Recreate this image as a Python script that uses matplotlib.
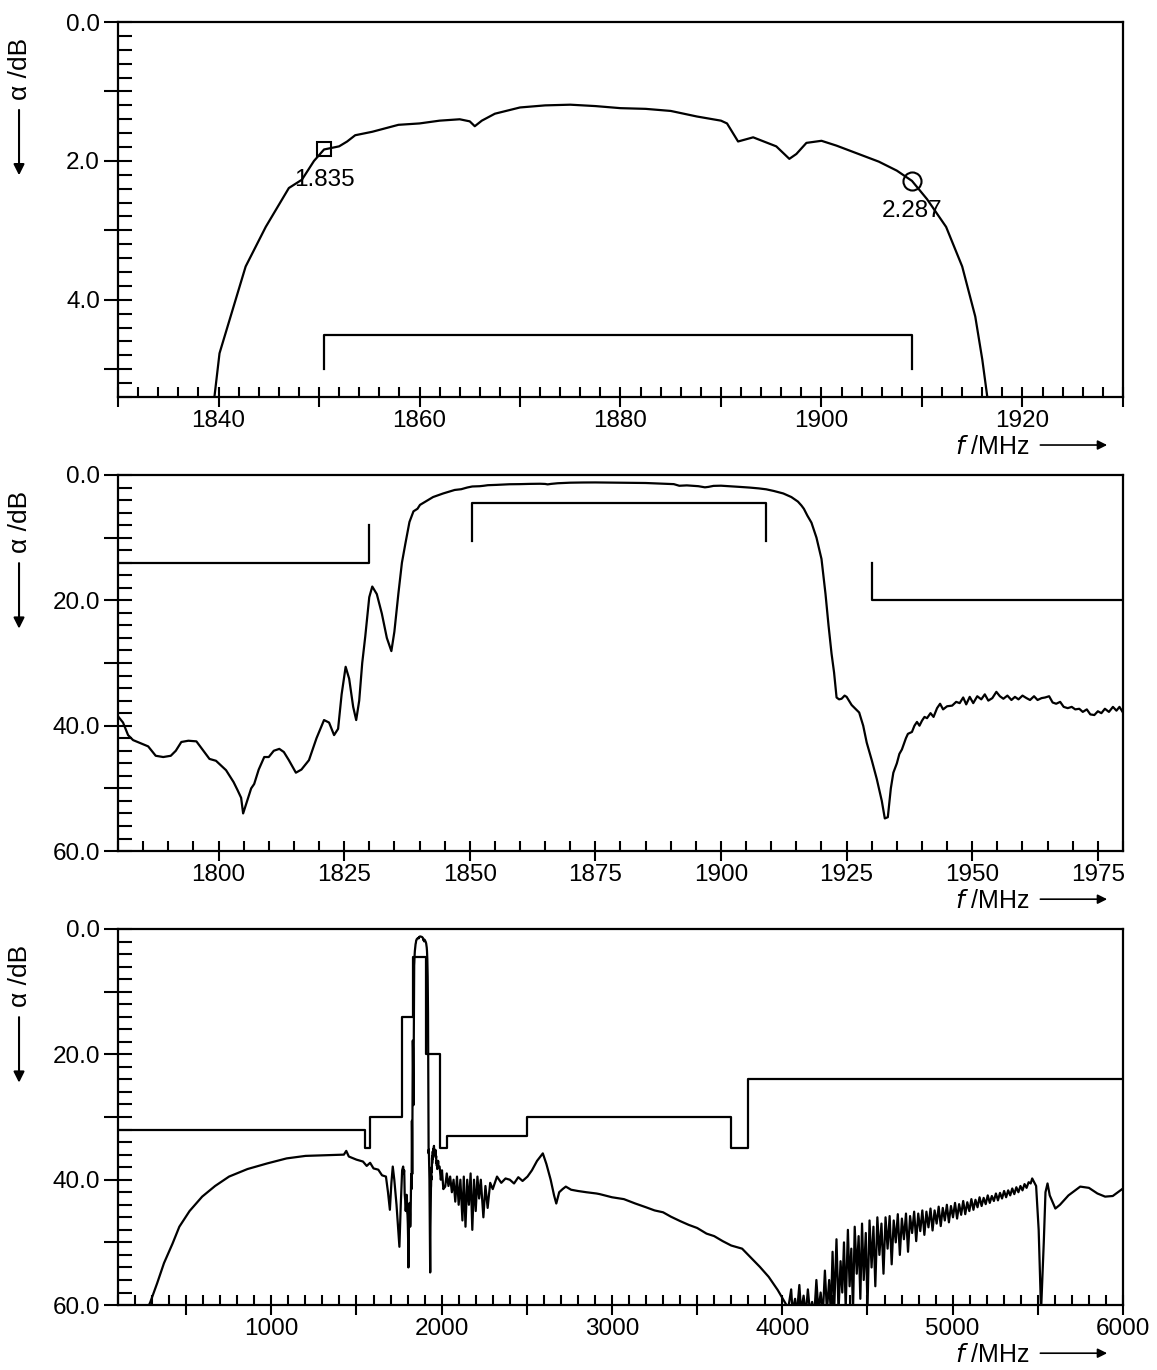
import matplotlib
matplotlib.use('Agg')
import matplotlib.pyplot as plt
from matplotlib.ticker import MultipleLocator, FuncFormatter

plt.rcParams['font.family'] = ['Liberation Sans', 'DejaVu Sans']

# fine sweep around the passband (MHz, dB)
fine_f = [1780.0, 1781.0, 1782.0, 1783.0, 1784.5, 1786.0, 1787.5, 1789.0, 1790.5, 1791.5,
          1792.6, 1794.0, 1795.6, 1797.0, 1798.2, 1799.5, 1801.5, 1803.0, 1803.8, 1804.5,
          1804.9, 1805.5, 1806.5, 1807.1, 1808.0, 1809.1, 1810.0, 1811.0, 1812.1, 1813.0,
          1814.0, 1815.4, 1816.5, 1818.0, 1819.5, 1821.0, 1822.0, 1823.0, 1823.8, 1824.5,
          1825.3, 1826.0, 1826.8, 1827.4, 1828.0, 1828.6, 1829.2, 1830.0, 1830.6, 1831.5,
          1832.5, 1833.5, 1834.4, 1835.0, 1835.8, 1836.5, 1837.2, 1838.0, 1838.8,
          1839.6, 1840.1, 1841.1, 1842.7, 1844.7, 1847.0, 1848.3, 1849.5, 1850.5, 1852.0,
          1852.8, 1853.6, 1855.3, 1857.9, 1860.0, 1862.0, 1864.0, 1865.0, 1865.5, 1866.2,
          1867.5, 1870.0, 1872.5, 1875.0, 1877.5, 1880.0, 1882.5, 1885.0, 1887.6, 1890.0,
          1890.6, 1891.7, 1893.2, 1894.6, 1895.5, 1896.8, 1897.5, 1898.5, 1900.0, 1901.5,
          1903.5, 1905.7, 1907.5, 1909.0, 1910.5, 1912.4, 1914.0, 1915.3, 1916.0, 1916.5,
          1917.2, 1918.0, 1919.0, 1920.0, 1920.8, 1921.4, 1922.0, 1922.5, 1923.0, 1923.5,
          1924.0, 1924.6, 1925.0, 1926.0, 1927.5, 1928.3, 1929.0, 1930.0, 1931.0, 1932.0,
          1932.6, 1933.2, 1933.8, 1934.3, 1935.0, 1935.5, 1936.0, 1936.8, 1937.2, 1938.0,
          1938.5, 1939.0, 1939.5, 1940.0, 1940.5, 1941.0, 1941.7, 1942.3, 1943.0, 1943.6,
          1944.2, 1945.0, 1946.0, 1946.8, 1947.5, 1948.2, 1948.8, 1949.5, 1950.2, 1951.0,
          1951.8, 1952.5, 1953.2, 1954.0, 1954.8, 1955.5, 1956.2, 1957.0, 1957.8, 1958.5,
          1959.2, 1960.0, 1960.8, 1961.5, 1962.3, 1963.0, 1963.8, 1964.5, 1965.3, 1966.0,
          1966.7, 1967.5, 1968.2, 1969.0, 1969.8, 1970.5, 1971.3, 1972.0, 1972.8, 1973.5,
          1974.3, 1975.0, 1975.7, 1976.4, 1977.2, 1978.0, 1978.7, 1979.3, 1980.0]
fine_a = [38.5, 39.5, 41.5, 42.3, 42.8, 43.3, 44.8, 45.0, 44.8, 44.0,
          42.6, 42.4, 42.5, 44.0, 45.3, 45.6, 47.1, 49.0, 50.3, 51.5,
          54.0, 52.5, 50.0, 49.3, 47.0, 45.0, 45.0, 44.0, 43.7, 44.2,
          45.5, 47.5, 47.0, 45.5, 42.0, 39.1, 39.5, 41.5, 40.5, 35.0,
          30.6, 32.5, 37.0, 39.1, 36.0, 30.0, 25.8, 19.5, 17.8, 19.0,
          22.1, 26.0, 28.1, 25.0, 18.9, 14.0, 10.9, 7.5, 5.8,
          5.39, 4.77, 4.29, 3.52, 2.95, 2.39, 2.27, 2.00, 1.835, 1.79,
          1.72, 1.63, 1.58, 1.48, 1.46, 1.42, 1.40, 1.43, 1.50, 1.42,
          1.32, 1.23, 1.20, 1.19, 1.21, 1.24, 1.25, 1.28, 1.36, 1.42,
          1.46, 1.72, 1.66, 1.74, 1.79, 1.97, 1.90, 1.74, 1.71, 1.78,
          1.89, 2.01, 2.14, 2.287, 2.55, 2.95, 3.52, 4.24, 4.86, 5.40,
          6.5, 7.6, 10.0, 13.4, 19.0, 24.0, 28.5, 31.5, 35.5, 35.8,
          35.7, 35.2, 35.4, 36.7, 37.9, 40.0, 42.7, 45.5, 48.5, 52.0,
          54.8, 54.6, 50.0, 47.5, 46.0, 44.5, 43.8, 42.0, 41.3, 41.0,
          40.0, 39.4, 40.0, 39.2, 38.6, 38.8, 38.0, 38.6, 37.2, 36.5,
          37.4, 36.9, 36.8, 36.2, 36.4, 35.5, 36.6, 35.4, 36.4, 35.3,
          35.8, 35.0, 36.0, 35.6, 34.6, 35.3, 35.7, 35.2, 35.9, 35.4,
          35.8, 35.2, 35.6, 35.9, 35.3, 35.9, 35.6, 35.5, 35.3, 36.3,
          36.5, 36.2, 37.0, 37.2, 37.0, 37.4, 37.3, 37.8, 37.4, 38.2,
          38.3, 37.7, 38.0, 37.3, 37.8, 37.0, 37.6, 37.0, 37.9]

# wide sweep below and above the fine sweep
low_f = [250, 290, 330, 370, 420, 460, 520, 594, 670, 752, 860, 976, 1090, 1201, 1310,
         1426, 1440, 1455, 1500, 1538, 1560, 1580, 1600, 1628, 1650, 1673, 1685, 1696,
         1705, 1713, 1722, 1735, 1745, 1752, 1760, 1768, 1774, 1778]
low_a = [62.0, 59.5, 56.5, 53.3, 50.2, 47.5, 45.0, 42.7, 41.0, 39.5, 38.3, 37.4, 36.6, 36.2, 36.1,
         36.0, 35.4, 36.3, 36.8, 37.1, 37.8, 37.3, 38.2, 38.4, 39.3, 39.5, 42.0, 44.8,
         40.5, 37.9, 40.0, 44.0, 48.0, 50.7, 44.0, 38.5, 37.9, 39.0]

high_f = [1988, 1995, 2002, 2010, 2021, 2030, 2040, 2050, 2060, 2070, 2080, 2090, 2100, 2110,
          2122, 2130, 2140, 2150, 2160, 2170, 2180, 2190, 2200, 2210, 2220, 2230, 2245, 2257,
          2270, 2285, 2300, 2325, 2350, 2375, 2400, 2425, 2450, 2475, 2504, 2530, 2560, 2594,
          2615, 2640, 2660, 2673, 2690, 2710, 2729, 2760, 2800, 2850, 2909, 2928, 3000, 3070,
          3137, 3200, 3250, 3300, 3346, 3400, 3450, 3500, 3555, 3600, 3650, 3700, 3764, 3800,
          3868, 3920, 3973, 4035,
          4052, 4060, 4075, 4085, 4100, 4110, 4125, 4138, 4150, 4162, 4175, 4188, 4200, 4212,
          4225, 4238, 4250, 4262, 4275, 4285, 4295, 4305, 4318, 4330, 4342, 4352, 4362, 4372,
          4385, 4395, 4405, 4415, 4425, 4437, 4448, 4458, 4468, 4478, 4490, 4500, 4512, 4524,
          4535, 4546, 4558, 4570, 4582, 4594, 4606, 4618, 4630, 4642, 4654, 4666, 4678, 4690,
          4702, 4714, 4726, 4738, 4750, 4762, 4774, 4786, 4798, 4810, 4822, 4834, 4846, 4858,
          4870, 4882, 4894, 4906, 4918, 4930, 4942, 4954, 4966, 4978, 4990, 5002, 5014, 5026,
          5038, 5050, 5062, 5074, 5086, 5098, 5110, 5122, 5134, 5146, 5158, 5170, 5182, 5194,
          5206, 5218, 5230, 5242, 5254, 5266, 5278, 5290, 5302, 5314, 5326, 5338, 5350, 5362,
          5374, 5386, 5398, 5410, 5422, 5434, 5446, 5458,
          5467, 5490, 5505, 5519, 5535, 5545, 5557, 5570, 5603, 5630, 5680, 5749, 5800, 5850,
          5895, 5940, 5970, 6000]
high_a = [37.9, 40.0, 38.5, 41.5, 41.1, 39.0, 41.0, 39.5, 42.0, 40.0, 43.5, 39.5, 44.0, 40.0,
          46.5, 39.5, 47.5, 40.0, 44.0, 39.0, 48.0, 40.0, 45.0, 39.5, 43.0, 40.0, 46.0, 41.0,
          44.5, 40.5, 41.5, 39.5, 40.5, 39.8, 40.0, 40.6, 39.6, 40.2, 39.5, 38.5, 37.0, 35.8,
          37.5, 40.0, 42.5, 43.8, 42.0, 41.5, 41.1, 41.6, 41.8, 42.0, 42.2, 42.3, 42.8, 43.1,
          43.8, 44.4, 44.9, 45.2, 45.9, 46.6, 47.2, 47.7, 48.6, 49.0, 49.8, 50.5, 51.0, 52.0,
          53.9, 55.5, 57.6, 60.5,
          57.5, 61.0, 59.0, 61.5, 56.8, 61.0, 58.5, 61.5, 57.5, 61.0, 59.5, 61.5, 56.0, 61.0,
          58.0, 61.5, 54.5, 61.0, 56.0, 61.5, 51.5, 60.5, 49.5, 61.0, 53.0, 58.0, 50.0, 60.5,
          48.0, 57.0, 51.0, 61.0, 47.5, 55.0, 49.0, 59.0, 47.0, 56.0, 48.5, 60.5, 46.5, 54.0,
          47.5, 57.0, 46.0, 52.0, 47.0, 55.0, 46.0, 51.0, 45.8, 53.5, 46.5, 50.0, 45.5, 52.0,
          46.2, 49.5, 45.4, 51.5, 45.8, 48.5, 45.1, 49.8, 45.4, 48.2, 44.9, 48.8, 45.1, 47.6,
          44.6, 48.1, 44.9, 47.0, 44.3, 47.4, 44.5, 46.5, 44.0, 46.8, 44.2, 46.0, 43.7, 46.2,
          43.9, 45.6, 43.4, 45.5, 43.6, 45.0, 43.1, 44.8, 43.2, 44.4, 42.8, 44.2, 42.9, 43.9,
          42.5, 43.7, 42.6, 43.4, 42.2, 43.3, 42.1, 43.0, 41.8, 42.8, 41.7, 42.5, 41.4, 42.3,
          41.2, 42.0, 41.0, 41.7, 40.7, 41.3, 40.4, 40.6,
          39.8, 41.0, 48.0, 61.0, 50.0, 42.0, 40.6, 42.5, 44.6, 44.0, 42.5, 41.1, 41.3, 42.2,
          42.7, 42.6, 42.0, 41.4]

# markers in the passband
marker_f = [1850.5, 1909.0]
marker_a = [1.835, 2.287]
marker_txt = ['1.835', '2.287']

# tolerance masks
pass_f = [1850.5, 1850.5, 1909.0, 1909.0]
pass_a_top = [5.0, 4.5, 4.5, 5.0]
pass_a_mid = [10.5, 4.5, 4.5, 10.5]
stop_lo_f = [1780, 1830, 1830]
stop_lo_a = [14, 14, 8]
stop_hi_f = [1930, 1930, 1980]
stop_hi_a = [14, 20, 20]
mask_edges = [100, 1550, 1580, 1770, 1830, 1910, 1990, 2030, 2500, 3700, 3800, 6000]
mask_vals = [32, 35, 30, 14, 4.5, 20, 35, 33, 30, 35, 24]

fig = plt.figure(figsize=(11.57, 13.70), dpi=100)
W = 0.8686
ax1 = fig.add_axes([0.102, 0.7102, W, 0.2737])
ax2 = fig.add_axes([0.102, 0.3788, W, 0.2745])
ax3 = fig.add_axes([0.102, 0.0474, W, 0.2745])

LW = 1.6
FS = 17.5


def style(ax, xlim, xmaj, xmin, xlab, ylim, ymaj, ymin, ylab):
    ax.set_xlim(*xlim)
    ax.set_ylim(ylim, 0)
    ax.xaxis.set_major_locator(MultipleLocator(xmaj))
    ax.xaxis.set_minor_locator(MultipleLocator(xmin))
    ax.yaxis.set_major_locator(MultipleLocator(ymaj))
    ax.yaxis.set_minor_locator(MultipleLocator(ymin))
    ax.xaxis.set_major_formatter(FuncFormatter(
        lambda v, p: f'{v:.0f}' if abs(v / xlab - round(v / xlab)) < 1e-6 else ''))
    ax.yaxis.set_major_formatter(FuncFormatter(
        lambda v, p: f'{v:.1f}' if abs(v / ylab - round(v / ylab)) < 1e-6 else ''))
    ax.tick_params(axis='x', which='major', direction='inout', length=14, width=1.5,
                   labelsize=FS, pad=2)
    ax.tick_params(axis='x', which='minor', direction='in', length=7, width=1.5)
    ax.tick_params(axis='y', which='major', direction='inout', length=20, width=1.5,
                   labelsize=FS, pad=3)
    ax.tick_params(axis='y', which='minor', direction='in', length=10, width=1.5)
    for s in ax.spines.values():
        s.set_linewidth(1.6)
    ax.text(-0.0975, 0.875, '\u03b1 /dB', rotation=90, transform=ax.transAxes,
            ha='center', va='center', fontsize=19)
    ax.annotate('', xy=(-0.0985, 0.584), xytext=(-0.0985, 0.773), xycoords='axes fraction',
                arrowprops=dict(arrowstyle='-|>', lw=1.5, color='black', mutation_scale=16))
    ax.text(0.9075, -0.132, r'$f$ /MHz', transform=ax.transAxes, ha='right', va='center',
            fontsize=18)
    ax.annotate('', xy=(0.987, -0.128), xytext=(0.915, -0.128), xycoords='axes fraction',
                arrowprops=dict(arrowstyle='-|>', lw=1.2, color='black', mutation_scale=14))


# top: passband detail
ax1.plot(fine_f, fine_a, color='black', lw=LW)
ax1.plot(pass_f, pass_a_top, color='black', lw=LW)
ax1.plot(marker_f[0], marker_a[0], marker='s', ms=10.5, mfc='none', mec='black', mew=1.5)
ax1.plot(marker_f[1], marker_a[1], marker='o', ms=13, mfc='none', mec='black', mew=1.5)
for f, a, t in zip(marker_f, marker_a, marker_txt):
    ax1.annotate(t, xy=(f, a), xytext=(0, -22), textcoords='offset points',
                 ha='center', va='center', fontsize=FS)
style(ax1, (1830, 1930), 10, 2, 20, 5.4, 1, 0.2, 2)

# middle: near band
ax2.plot(fine_f, fine_a, color='black', lw=LW)
ax2.plot(stop_lo_f, stop_lo_a, color='black', lw=LW)
ax2.plot(pass_f, pass_a_mid, color='black', lw=LW)
ax2.plot(stop_hi_f, stop_hi_a, color='black', lw=LW)
style(ax2, (1780, 1980), 25, 5, 25, 60, 10, 2, 20)

# bottom: wide band
ax3.plot(low_f + fine_f + high_f, low_a + fine_a + high_a, color='black', lw=LW)
ax3.step(mask_edges, mask_vals + [mask_vals[-1]], where='post', color='black', lw=LW)
style(ax3, (100, 6000), 500, 100, 1000, 60, 10, 2, 20)

fig.savefig('out.png', dpi=100)
